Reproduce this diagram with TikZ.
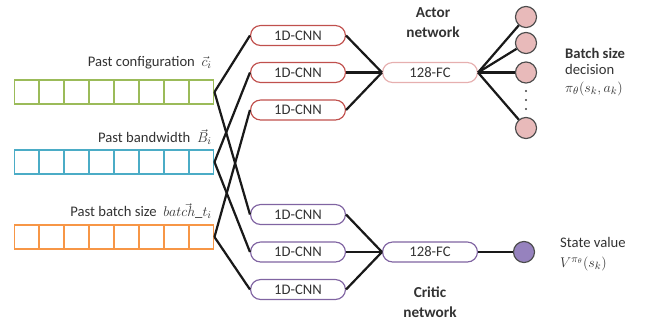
\documentclass[tikz,border=0pt]{standalone}
\usepackage{fontspec}
\setmainfont{Carlito}
\usepackage{amsmath}
\definecolor{cfgGreen}{RGB}{155,187,89}
\definecolor{bwBlue}{RGB}{75,172,198}
\definecolor{bsOrange}{RGB}{247,150,70}
\definecolor{actorRed}{RGB}{192,80,77}
\definecolor{fcPink}{RGB}{230,175,175}
\definecolor{criticPurple}{RGB}{128,100,162}
\definecolor{outPink}{RGB}{232,186,186}
\definecolor{outPurple}{RGB}{150,130,190}

\begin{document}
\begin{tikzpicture}[x=0.03cm, y=-0.03cm, font=\fontsize{12.5}{14}\selectfont,
  cnn/.style={draw, line width=1pt, rounded corners=8.5pt, minimum width=81pt,
              minimum height=17pt, inner sep=0pt, text=black!80},
  link/.style={line width=1.9pt, black!90},
  outnode/.style={circle, draw=black!70, line width=1pt, minimum size=18pt, inner sep=0pt},
  lbl/.style={text=black!80, inner sep=0pt}]
  \useasboundingbox (0,0) rectangle (645,327);
  %% 1. Input arrays
  \foreach \name/\col/\yc in {conf/cfgGreen/92, bw/bwBlue/162, bs/bsOrange/237} {
    \node[draw=\col, line width=1.5pt, minimum width=170pt, minimum height=20.5pt,
          inner sep=0pt] (\name) at (114,\yc) {};
    \foreach \k in {1,...,7}
      \draw[\col, line width=1.5pt] (14+25*\k,\yc-12) -- (14+25*\k,\yc+12);
  }
  \node[lbl, anchor=east] (confl) at (212,63) {Past configuration\ \ $\vec{c}_i$};
  \node[lbl, anchor=east] (bwl) at (212,137) {Past bandwidth\ \ $\vec{B}_i$};
  \node[lbl, anchor=east] (bsl) at (212,211) {Past batch size\ \ $\vec{batch\_t_i}$};
  %% 2. Convolution layers
  \node[cnn, draw=actorRed] (ac1) at (298,35.5) {1D-CNN};
  \node[cnn, draw=actorRed] (ac2) at (298,72.5) {1D-CNN};
  \node[cnn, draw=actorRed] (ac3) at (298,110) {1D-CNN};
  \node[cnn, draw=criticPurple] (cc1) at (298,214.5) {1D-CNN};
  \node[cnn, draw=criticPurple] (cc2) at (298,252) {1D-CNN};
  \node[cnn, draw=criticPurple] (cc3) at (298,289.5) {1D-CNN};
  %% 3. Fully connected layers
  \node[cnn, draw=fcPink] (afc) at (430,72.5) {128-FC};
  \node[cnn, draw=criticPurple] (cfc) at (430,252) {128-FC};
  \node[lbl, font=\fontsize{13}{17}\selectfont\bfseries, align=center] (actor) at (433,23) {Actor\\network};
  \node[lbl, font=\fontsize{13}{17}\selectfont\bfseries, align=center] (critic) at (430,302.5) {Critic\\network};
  %% 4. Outputs
  \node[outnode, fill=outPink] (o1) at (526,17) {};
  \node[outnode, fill=outPink] (o2) at (526,43) {};
  \node[outnode, fill=outPink] (o3) at (526,72.5) {};
  \foreach \d in {91,100,109}
    \fill[black!75] (526,\d) circle (0.9pt);
  \node[outnode, fill=outPink] (o4) at (526,128) {};
  \node[outnode, fill=outPurple] (v) at (524,252) {};
  \node[lbl, anchor=west, align=left, font=\fontsize{12.5}{12.5}\selectfont] (pol) at (565,72)
    {\textbf{Batch size}\\[1pt]decision\\[3pt]$\pi_\theta(s_k,a_k)$};
  \node[lbl, anchor=west, align=left] (sv) at (560,254)
    {State value\\[3pt]$V^{\pi_\theta}(s_k)$};
  %% 5. Links
  \foreach \src/\a/\c in {conf/ac1/cc1, bw/ac2/cc2, bs/ac3/cc3} {
    \draw[link] (\src.east) -- (\a.west);
    \draw[link] (\src.east) -- (\c.west);
  }
  \foreach \k in {1,2,3} {
    \draw[link] (ac\k.east) -- (afc.west);
    \draw[link] (cc\k.east) -- (cfc.west);
  }
  \foreach \o in {o1,o2,o3,o4}
    \draw[link] (afc.east) -- (\o);
  \draw[link] (cfc.east) -- (v);
\end{tikzpicture}
\end{document}
